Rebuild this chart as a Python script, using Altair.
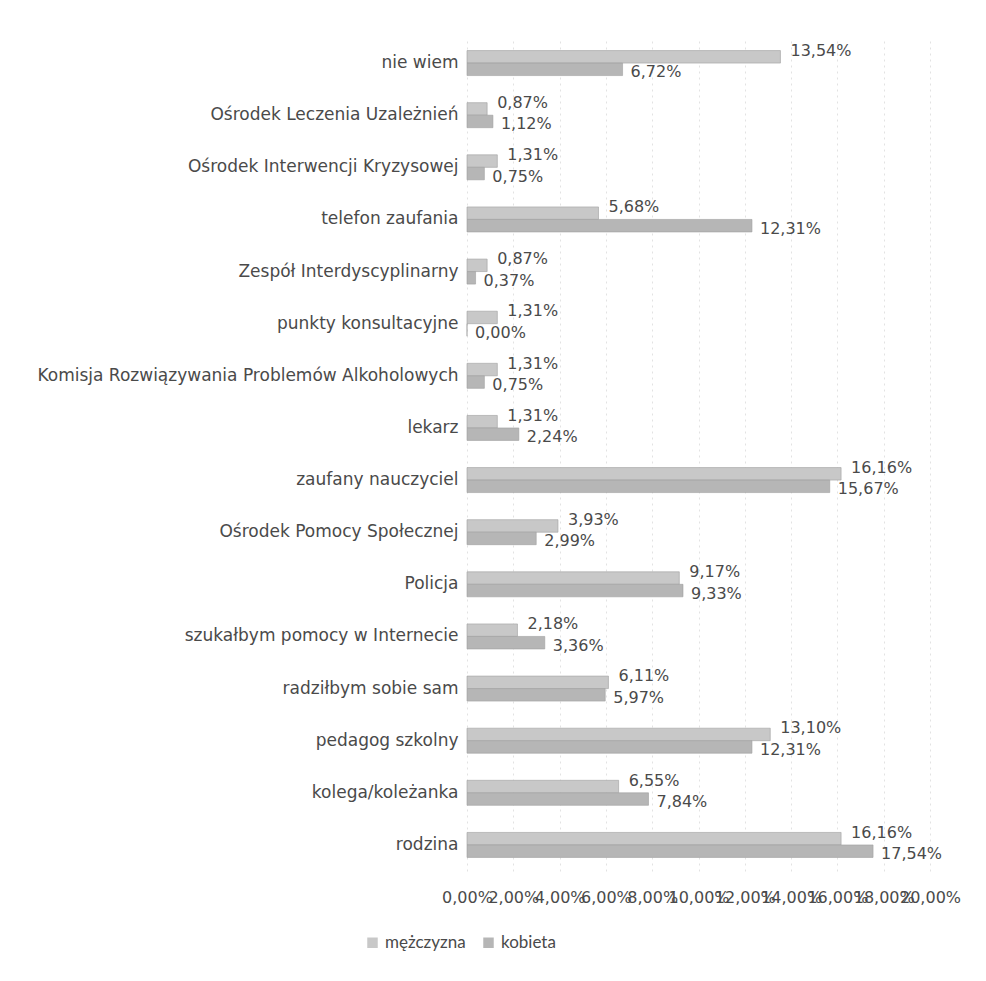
import altair as alt
import pandas as pd

categories = [
    "nie wiem",
    "Ośrodek Leczenia Uzależnień",
    "Ośrodek Interwencji Kryzysowej",
    "telefon zaufania",
    "Zespół Interdyscyplinarny",
    "punkty konsultacyjne",
    "Komisja Rozwiązywania Problemów Alkoholowych",
    "lekarz",
    "zaufany nauczyciel",
    "Ośrodek Pomocy Społecznej",
    "Policja",
    "szukałbym pomocy w Internecie",
    "radziłbym sobie sam",
    "pedagog szkolny",
    "kolega/koleżanka",
    "rodzina",
]
mezczyzna = [13.54, 0.87, 1.31, 5.68, 0.87, 1.31, 1.31, 1.31, 16.16, 3.93, 9.17, 2.18, 6.11, 13.10, 6.55, 16.16]
kobieta = [6.72, 1.12, 0.75, 12.31, 0.37, 0.00, 0.75, 2.24, 15.67, 2.99, 9.33, 3.36, 5.97, 12.31, 7.84, 17.54]
series = ["mężczyzna", "kobieta"]
x_ticks = [0, 2, 4, 6, 8, 10, 12, 14, 16, 18, 20]

rows = []
for c, m, k in zip(categories, mezczyzna, kobieta):
    rows.append({"kat": c, "plec": series[0], "val": m})
    rows.append({"kat": c, "plec": series[1], "val": k})
df = pd.DataFrame(rows)

FONT = "DejaVu Sans"
TXT = "#4a4a4a"

y_enc = alt.Y("kat:N", sort=categories, title=None,
              scale=alt.Scale(paddingInner=0.52, paddingOuter=0.26),
              axis=alt.Axis(labelFontSize=17, labelColor=TXT, labelFont=FONT,
                            ticks=False, domain=False, labelPadding=9, labelLimit=500))
yoff = alt.YOffset("plec:N", sort=series)

base = alt.Chart(df)

bars = base.mark_bar(stroke="#a0a0a0", strokeWidth=0.6).encode(
    y=y_enc,
    yOffset=yoff,
    x=alt.X("val:Q", title=None,
            scale=alt.Scale(domain=[0, 20], nice=False),
            axis=alt.Axis(values=x_ticks, domain=False, ticks=False, labelFlush=False,
                          labelExpr="replace(format(datum.value, '.2f'), '.', ',') + '%'",
                          labelOverlap=False, labelFontSize=16, labelColor=TXT, labelFont=FONT,
                          labelPadding=18, grid=True, gridColor="#e2e2e2", gridDash=[2, 4],
                          gridWidth=1)),
    color=alt.Color("plec:N", sort=series, title=None,
                    scale=alt.Scale(domain=series, range=["#c8c8c8", "#b6b6b6"]),
                    legend=alt.Legend(orient="none", legendX=-103, legendY=897,
                                      direction="horizontal", symbolType="square",
                                      symbolSize=110, labelFontSize=17, labelFont="Lato",
                                      labelColor=TXT, columnPadding=14, symbolStrokeWidth=0)),
)

lab_m = base.transform_filter(alt.datum.plec == "mężczyzna").transform_calculate(
    lbl="replace(format(datum.val, '.2f'), '.', ',') + '%'"
).mark_text(align="left", baseline="middle", dx=10, dy=-6, fontSize=16, font=FONT, color=TXT).encode(
    y=alt.Y("kat:N", sort=categories), yOffset=yoff, x="val:Q", text="lbl:N")

lab_k = base.transform_filter(alt.datum.plec == "kobieta").transform_calculate(
    lbl="replace(format(datum.val, '.2f'), '.', ',') + '%'"
).mark_text(align="left", baseline="middle", dx=8, dy=3, fontSize=16, font=FONT, color=TXT).encode(
    y=alt.Y("kat:N", sort=categories), yOffset=yoff, x="val:Q", text="lbl:N")

chart = alt.layer(bars, lab_m, lab_k).properties(
    width=463, height=834,
    autosize=alt.AutoSizeParams(type="none"),
    padding={"left": 459, "top": 29, "right": 48, "bottom": 85},
).configure(background="white").configure_view(stroke=None)

chart.save("out.html", embed_options={"renderer": "svg", "actions": False})
